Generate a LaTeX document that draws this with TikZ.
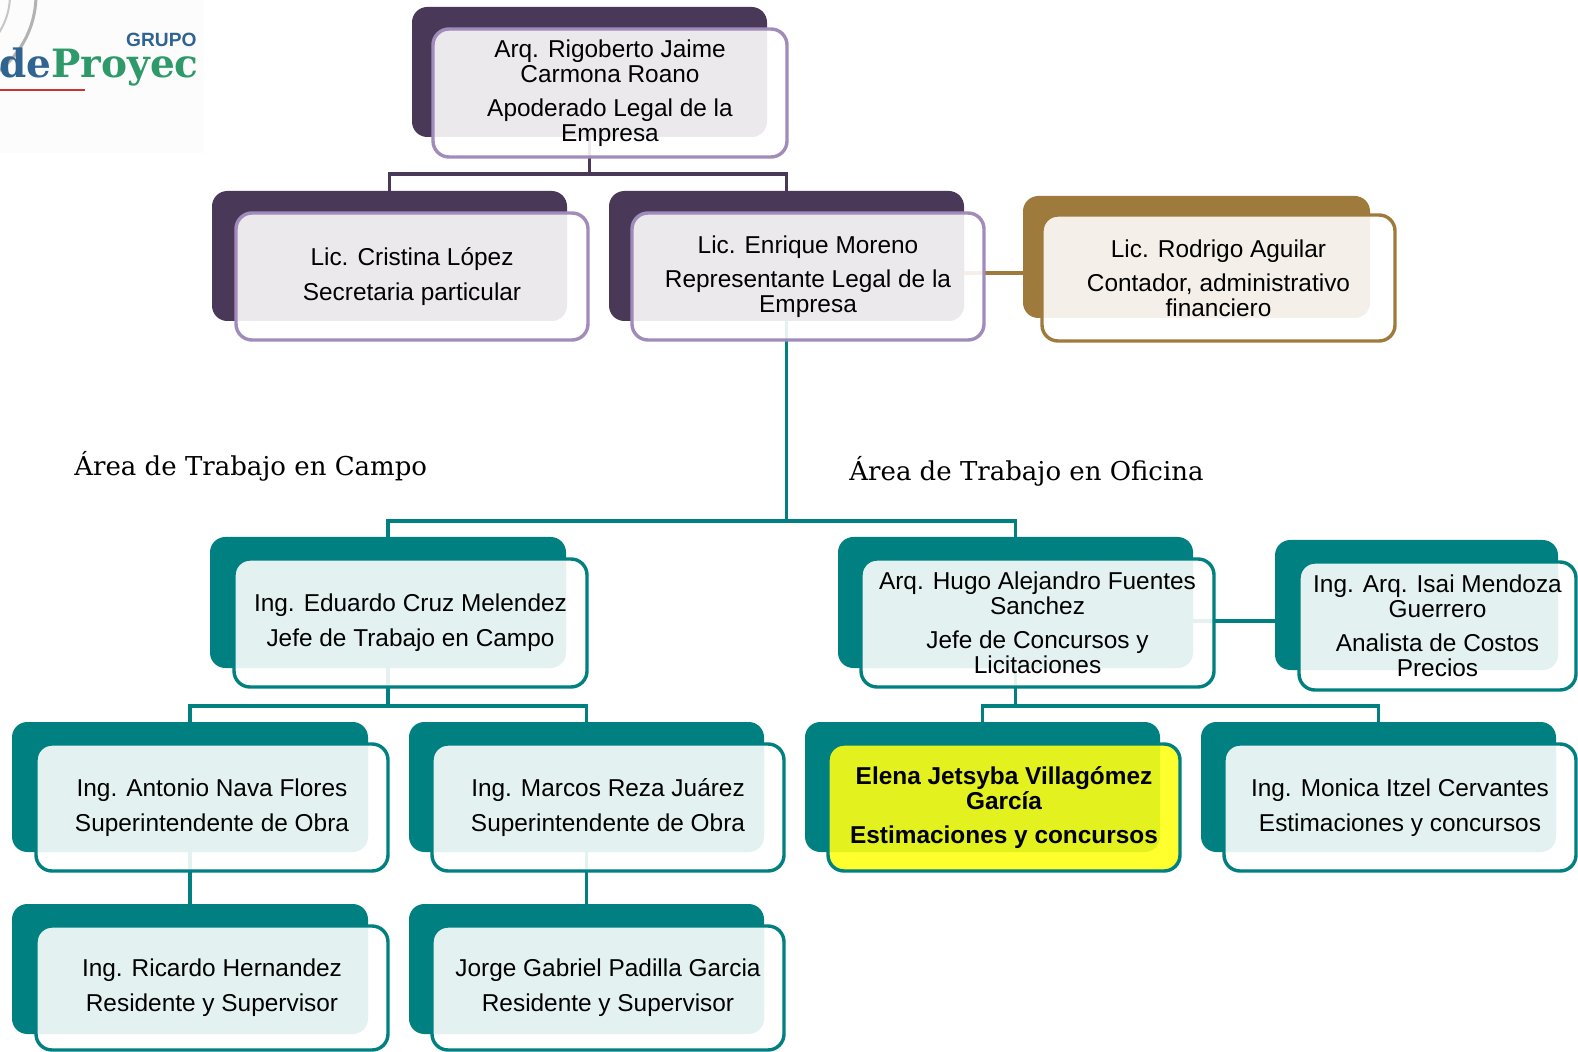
\documentclass[tikz,border=0pt]{standalone}
\usepackage{fontspec}
\setmainfont{Liberation Sans}
\newfontfamily\headfont{DejaVu Serif}
\newfontfamily\logofont{DejaVu Serif}
\definecolor{purpledark}{HTML}{4A3859}
\definecolor{purpleline}{HTML}{A08BBA}
\definecolor{tealmain}{HTML}{008080}
\definecolor{brownmain}{HTML}{9E7B3C}
\definecolor{hiyellow}{HTML}{FFFF14}
\definecolor{logoblue}{HTML}{2F6390}
\definecolor{logogreen}{HTML}{2E9A6A}
\tikzset{
  backbox/.style={rounded corners=9pt*0.85,minimum width=#1,inner sep=0pt,outer sep=0pt},
  frontbox/.style={draw,line width=1.7pt,rounded corners=8pt,fill=white,fill opacity=.89,text opacity=1,
    align=center,inner sep=0pt,outer sep=0pt,font=\fontsize{12.2}{12.5}\selectfont},
  conn/.style={line width=1.7pt},
  headtext/.style={font=\headfont\fontsize{13}{15}\selectfont,anchor=base west,inner sep=0pt},
}
\newcommand{\boxpair}[9]{%
  % name, bx, by, bw, bh, fw, fh, colour back/front, text
  \node[backbox=#4*.5pt,minimum height=#5*.5pt,fill=#8,anchor=north west] (#1b) at (#2,#3) {};
  \expandafter\gdef\csname front#1\endcsname{#9}%
}
\newcommand{\frontat}[8]{%
  % name, x, y, w, h, line, fill, text
  \node[frontbox,minimum width=#4*.5pt,minimum height=#5*.5pt,draw=#6,fill=#7,anchor=north west] (#1f) at (#2,#3) {#8};
}
\begin{document}
\begin{tikzpicture}[x=.5pt,y=-.5pt]
\useasboundingbox (0,0) rectangle (1578,1052);
\clip (0,0) rectangle (1578,1052);
% logo
\fill[white!98!gray] (0,0) rectangle (204,153);
\draw[gray!60,line width=1.5pt] (-60,-5) circle[radius=96];
\draw[gray!45,line width=1pt] (-60,-5) circle[radius=70];
\draw[red!60!gray,line width=.8pt] (0,90) -- (85,90);
\node[anchor=base east,inner sep=0pt,text=logoblue,font=\bfseries\fontsize{9.6}{10}\selectfont] (grupo) at (197,47) {GRUPO};
\node[anchor=base east,inner sep=0pt,font=\logofont\bfseries\fontsize{19.5}{20}\selectfont] (logo) at (199,78) {\textcolor{logoblue}{de}\textcolor{logogreen}{Proyec}};
% back boxes
\boxpair{top}{412}{7}{355}{130}{}{}{purpledark}{}
\boxpair{cris}{212}{191}{355}{130}{}{}{purpledark}{}
\boxpair{enri}{609}{191}{355}{130}{}{}{purpledark}{}
\boxpair{rodr}{1023}{196}{347}{122}{}{}{brownmain}{}
\boxpair{edu}{210}{537}{356}{131}{}{}{tealmain}{}
\boxpair{hugo}{838}{537}{355}{131}{}{}{tealmain}{}
\boxpair{isai}{1275}{540}{283}{130}{}{}{tealmain}{}
\boxpair{anto}{12}{722}{356}{130}{}{}{tealmain}{}
\boxpair{marc}{409}{722}{355}{130}{}{}{tealmain}{}
\boxpair{elen}{805}{722}{355}{130}{}{}{tealmain}{}
\boxpair{moni}{1201}{722}{355}{130}{}{}{tealmain}{}
\boxpair{rica}{12}{904}{356}{130}{}{}{tealmain}{}
\boxpair{jorg}{409}{904}{355}{130}{}{}{tealmain}{}
% connectors
\draw[conn,purpledark] (topb.south) -- ++(0,37) coordinate (tj) -| (crisb.north);
\draw[conn,purpledark] (tj) -| (enrib.north);
\draw[conn,tealmain] (enrib.south) |- (edub.north |- 0,521) coordinate (ej) -- (edub.north);
\draw[conn,tealmain] (enrib.south |- ej) -| (hugob.north);
\draw[conn,tealmain] (edub.south) -- ++(0,38) coordinate (cj) -| (antob.north);
\draw[conn,tealmain] (cj) -| (marcb.north);
\draw[conn,tealmain] (hugob.south) -- ++(0,38) coordinate (hj) -| (elenb.north);
\draw[conn,tealmain] (hj) -| (monib.north);
\draw[conn,tealmain] (antob.south) -- (ricab.north);
\draw[conn,tealmain] (marcb.south) -- (jorgb.north);
\coordinate (rodrin) at (1049,273);
\draw[conn,brownmain] (enrib.east |- rodrin) -- (rodrin);
\draw[conn,tealmain] (hugob.east |- 0,621) -- (isaib.west |- 0,621);
% front boxes
\frontat{top}{433}{29}{354}{128}{purpleline}{white}{Arq. Rigoberto Jaime\\Carmona Roano\\[4.5pt]Apoderado Legal de la\\Empresa}
\frontat{cris}{236}{213}{352}{127}{purpleline}{white}{Lic. Cristina López\\[5pt]Secretaria particular}
\frontat{enri}{632}{213}{352}{127}{purpleline}{white}{Lic. Enrique Moreno\\[4.5pt]Representante Legal de la\\Empresa}
\frontat{rodr}{1042}{215}{353}{126}{brownmain}{white}{Lic. Rodrigo Aguilar\\[4.5pt]Contador, administrativo\\financiero}
\frontat{edu}{234}{559}{353}{128}{tealmain}{white}{Ing. Eduardo Cruz Melendez\\[5pt]Jefe de Trabajo en Campo}
\frontat{hugo}{861}{559}{353}{128}{tealmain}{white}{Arq. Hugo Alejandro Fuentes\\Sanchez\\[4.5pt]Jefe de Concursos y\\Licitaciones}
\frontat{isai}{1299}{562}{277}{128}{tealmain}{white}{Ing. Arq. Isai Mendoza\\Guerrero\\[4.5pt]Analista de Costos\\Precios}
\frontat{anto}{36}{744}{352}{127}{tealmain}{white}{Ing. Antonio Nava Flores\\[5pt]Superintendente de Obra}
\frontat{marc}{432}{744}{352}{127}{tealmain}{white}{Ing. Marcos Reza Juárez\\[5pt]Superintendente de Obra}
\frontat{elen}{828}{744}{352}{127}{tealmain}{hiyellow}{\bfseries Elena Jetsyba Villagómez\\\bfseries García\\[4.5pt]\bfseries Estimaciones y concursos}
\frontat{moni}{1224}{744}{352}{127}{tealmain}{white}{Ing. Monica Itzel Cervantes\\[5pt]Estimaciones y concursos}
\frontat{rica}{36}{926}{352}{124}{tealmain}{white}{Ing. Ricardo Hernandez\\[5pt]Residente y Supervisor}
\frontat{jorg}{432}{926}{352}{124}{tealmain}{white}{Jorge Gabriel Padilla Garcia\\[5pt]Residente y Supervisor}
% headings
\node[headtext] (hcampo) at (74,476) {Área de Trabajo en Campo};
\node[headtext] (hofi) at (849,481) {Área de Trabajo en Oficina};
\end{tikzpicture}
\end{document}
